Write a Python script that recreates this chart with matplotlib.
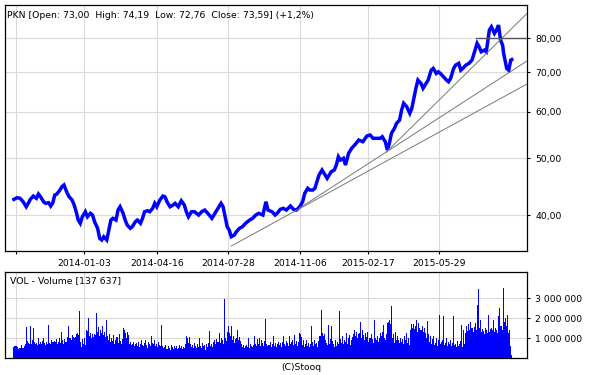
import numpy as np
import matplotlib.pyplot as plt
from matplotlib.ticker import FixedLocator, FuncFormatter, NullLocator

# close prices sampled along the session index (trading day number)
price_day = [0, 3, 6, 9, 12, 14, 16, 19, 22, 24, 26, 29, 31, 34, 36, 38, 40, 42, 45, 47,
             49, 52, 54, 57, 59, 61, 63, 65, 67, 70, 72, 75, 77, 79, 82, 84, 86, 88, 91, 93,
             95, 97, 100, 102, 104, 107, 109, 111, 114, 116, 119, 121, 124, 126, 128, 131, 133, 136, 138, 140,
             143, 146, 148, 150, 153, 156, 158, 161, 164, 167, 169, 171, 174, 177, 181, 184, 187, 190, 194, 197,
             200, 203, 205, 207, 209, 211, 213, 216, 218, 221, 224, 227, 231, 234, 237, 240, 244, 247, 249, 253,
             256, 258, 261, 264, 267, 271, 274, 277, 280, 283, 285, 288, 290, 293, 295, 297, 299, 302, 304, 307,
             309, 311, 314, 316, 318, 320, 323, 325, 328, 331, 334, 338, 342, 346, 349, 352, 356, 359, 361, 364,
             366, 368, 370, 373, 375, 378, 380, 382, 385, 388, 390, 392, 394, 396, 399, 401, 404, 406, 409, 411,
             414, 416, 418, 421, 424, 426, 428, 431, 433, 436, 438, 440, 443, 446, 449, 451, 454, 456, 458, 461,
             463, 466, 468, 471, 473, 475, 477, 479, 480, 482, 483, 485, 487, 488]
price = [42.54, 42.81, 42.71, 42.14, 41.32, 41.88, 42.54, 43.09, 42.71, 43.43, 42.98, 42.14, 41.88, 41.98, 41.44, 41.93, 43.26, 43.43, 44.12, 44.70,
         45.00, 43.66, 42.98, 42.42, 41.60, 40.52, 39.22, 38.72, 39.73, 40.52, 39.73, 40.27, 40.00, 38.96, 37.97, 36.51, 36.27, 36.74, 36.27, 37.72,
         39.22, 39.49, 39.22, 40.79, 41.32, 40.27, 39.22, 38.46, 37.97, 38.21, 38.96, 39.22, 38.72, 39.49, 40.52, 40.68, 40.52, 41.07, 41.88, 41.32,
         42.42, 43.09, 42.98, 42.14, 41.32, 41.60, 41.88, 41.32, 42.30, 41.60, 40.50, 39.73, 40.52, 40.52, 40.00, 40.52, 40.79, 40.27, 39.49, 40.27,
         41.07, 41.88, 41.32, 39.73, 38.21, 37.72, 36.74, 36.98, 37.46, 37.97, 38.21, 38.72, 39.22, 39.49, 40.00, 40.27, 40.00, 42.14, 40.79, 40.52,
         40.00, 40.27, 40.90, 41.07, 40.79, 41.44, 40.90, 40.79, 41.32, 42.14, 43.55, 44.42, 44.12, 44.12, 44.42, 45.58, 46.79, 47.72, 47.10, 46.19,
         46.79, 47.40, 47.72, 48.66, 50.27, 49.63, 49.96, 48.66, 50.95, 51.96, 52.63, 53.68, 53.32, 54.53, 54.74, 54.04, 54.04, 54.04, 54.38, 53.32,
         51.61, 52.99, 55.11, 56.20, 57.31, 58.05, 60.38, 62.00, 61.17, 59.60, 60.78, 63.21, 65.74, 67.90, 67.03, 65.74, 67.03, 67.90, 70.60, 71.08,
         69.69, 70.13, 69.69, 68.77, 67.90, 67.45, 68.34, 71.08, 72.01, 72.50, 70.60, 71.08, 72.01, 72.50, 73.43, 75.39, 78.41, 77.37, 75.86, 76.37,
         75.86, 82.60, 83.67, 81.54, 82.60, 84.24, 79.44, 77.89, 75.39, 72.50, 71.08, 70.60, 73.43, 73.59]

# daily volume, thousands of shares
volume_k = [
    560, 600, 620, 530, 450, 480, 520, 640, 490, 510, 580, 720, 1530, 830, 760, 690, 1580, 700, 880, 1500,
    820, 700, 760, 650, 980, 720, 780, 690, 850, 1000, 740, 660, 810, 700, 1670, 760, 700, 900, 780, 820,
    860, 780, 940, 700, 820, 1000, 760, 1300, 880, 720, 950, 800, 1050, 1600, 980, 1020, 900, 1150, 1060, 980,
    1050, 1200, 1250, 1150, 2330, 820, 560, 950, 700, 1000, 640, 1400, 1350, 2000, 1100, 1250, 1000, 1180, 1050, 1220,
    1150, 2250, 1300, 1550, 1100, 1400, 1250, 1600, 1150, 1300, 1050, 1900, 1100, 900, 1200, 780, 1000, 850, 1150, 720,
    900, 1050, 760, 1200, 830, 680, 950, 1500, 1400, 1250, 1000, 1300, 1150, 700, 780, 640, 720, 820, 600, 680,
    760, 620, 820, 540, 700, 880, 650, 580, 750, 900, 640, 520, 820, 700, 600, 1080, 760, 680, 900, 620,
    700, 560, 820, 640, 580, 1670, 620, 480, 550, 660, 450, 600, 520, 400, 640, 560, 470, 610, 500, 580,
    450, 520, 640, 480, 600, 430, 560, 500, 680, 1080, 1000, 760, 1050, 720, 560, 640, 480, 750, 600, 520,
    700, 560, 1000, 620, 480, 740, 580, 650, 420, 700, 560, 760, 1330, 600, 720, 540, 820, 900, 700, 950,
    820, 1250, 760, 1000, 880, 700, 2950, 1000, 840, 1300, 1580, 1250, 1100, 1600, 900, 1080, 760, 950, 1000, 1400,
    900, 1050, 850, 700, 560, 650, 520, 600, 640, 560, 1000, 520, 680, 600, 540, 660, 1080, 720, 600, 940,
    700, 1000, 620, 880, 760, 600, 840, 1950, 720, 580, 660, 800, 540, 700, 1080, 620, 760, 560, 680, 820,
    640, 760, 560, 820, 1100, 700, 620, 860, 740, 580, 1100, 680, 800, 900, 640, 1170, 720, 860, 600, 780,
    1250, 1200, 1050, 640, 880, 560, 720, 900, 620, 760, 540, 700, 1600, 820, 600, 900, 680, 760, 540, 840,
    1100, 2420, 1250, 1100, 1200, 880, 760, 640, 1670, 720, 950, 1600, 840, 680, 560, 900, 620, 780, 700, 2330,
    950, 760, 1100, 680, 900, 820, 1250, 700, 1000, 1170, 640, 880, 1050, 1200, 1400, 1100, 1300, 1000, 1180, 1250,
    1800, 1000, 1400, 1150, 900, 1250, 1050, 1300, 800, 1000, 1200, 950, 760, 1920, 1000, 880, 1100, 820, 1000, 1250,
    1100, 1300, 1670, 1000, 900, 1200, 1750, 1800, 1920, 1700, 2580, 1000, 1200, 760, 1300, 900, 1100, 880, 750, 1000,
    820, 950, 700, 1080, 880, 1250, 760, 1000, 640, 1400, 1700, 1500, 1680, 1450, 1600, 1920, 1300, 1750, 1500, 1400,
    1600, 1300, 1500, 1250, 1000, 1830, 1200, 800, 1100, 700, 950, 1080, 640, 760, 1000, 600, 880, 2170, 700, 820,
    900, 2100, 640, 760, 1000, 620, 820, 700, 900, 580, 760, 2080, 640, 720, 560, 840, 600, 700, 850, 1670,
    560, 1420, 700, 1250, 1600, 1330, 1700, 1400, 1800, 1500, 1300, 1550, 1750, 1400, 2670, 3450, 1500, 1920, 1300, 1450,
    1350, 1200, 1500, 1400, 1250, 2170, 1300, 1450, 1500, 1380, 1920, 1300, 1500, 1400, 1250, 2080, 2500, 1600, 1580, 1400,
    3500, 1800, 2000, 1600, 2170, 1250, 1400, 580, 137.637]

# trend lines (start day, start price) -> (end day, end price)
trend_start_day = [213, 280, 365]
trend_start_price = [35.42, 41.11, 51.21]
trend_end_day = [503, 503, 503]
trend_end_price = [66.87, 73.2, 88.2]
resist_day = 453
resist_price = 80.0

grid_days = [2, 69, 140.5, 210, 280.5, 347.5, 417]
grid_labels = ['', '2014-01-03', '2014-04-16', '2014-07-28', '2014-11-06', '2015-02-17', '2015-05-29']
price_ticks = [40, 50, 60, 70, 80]
vol_ticks = [1000000, 2000000, 3000000]

title = 'PKN [Open: 73,00  High: 74,19  Low: 72,76  Close: 73,59] (+1,2%)'
vol_title = 'VOL - Volume [137 637]'

blue = '#0000ff'
gridc = '#d9d9d9'
fs = 6.7

fig = plt.figure(figsize=(6, 3.75), dpi=100)
ax = fig.add_axes([5.3 / 600, 1 - 250.7 / 375, 522 / 600, 246 / 375])
axv = fig.add_axes([5.3 / 600, 1 - 358 / 375, 522 / 600, 86 / 375])

# price panel
ax.set_yscale('log')
ax.plot(price_day, price, color=blue, lw=2.5, solid_joinstyle='miter', zorder=3)
for d0, p0, d1, p1 in zip(trend_start_day, trend_start_price, trend_end_day, trend_end_price):
    ax.plot([d0, d1], [p0, p1], color='#777777', lw=0.7, zorder=4)
ax.plot([resist_day, 503.2], [resist_price, resist_price], color='#555555', lw=1.0, zorder=4)

ax.set_xlim(-8.5, 503.2)
ax.set_ylim(34.78, 91.25)
ax.yaxis.tick_right()
ax.yaxis.set_major_locator(FixedLocator(price_ticks))
ax.yaxis.set_minor_locator(NullLocator())
ax.yaxis.set_major_formatter(FuncFormatter(lambda v, p: f'{v:.2f}'.replace('.', ',')))
ax.set_xticks(grid_days)
ax.set_xticklabels(grid_labels)
ax.grid(True, color=gridc, lw=0.8, zorder=0)
ax.set_axisbelow(True)
ax.tick_params(axis='both', labelsize=fs, length=2.5, width=0.8, pad=3.2, colors='black')

# volume panel
days = np.arange(len(volume_k))
axv.bar(days, np.array(volume_k) * 1000, width=1.0, color=blue, linewidth=0, antialiased=False, zorder=3)
axv.set_xlim(-8.5, 503.2)
axv.set_ylim(0, 4300000)
axv.yaxis.tick_right()
axv.yaxis.set_major_locator(FixedLocator(vol_ticks))
axv.yaxis.set_major_formatter(FuncFormatter(lambda v, p: f'{int(v):,}'.replace(',', ' ')))
axv.set_xticks(grid_days)
axv.set_xticklabels([])
axv.grid(True, color=gridc, lw=0.8, zorder=0)
axv.set_axisbelow(True)
axv.tick_params(axis='y', labelsize=fs, length=2.5, width=0.8, pad=3.2)
axv.tick_params(axis='x', length=0)

for a in (ax, axv):
    for s in a.spines.values():
        s.set_linewidth(0.9)
        s.set_color('black')

fig.text(7 / 600, 1 - 16 / 375, title, fontsize=fs, va='center', ha='left')
fig.text(10 / 600, 1 - 281 / 375, vol_title, fontsize=fs, va='center', ha='left')
fig.text(301.5 / 600, 1 - 367.5 / 375, '(C)Stooq', fontsize=fs, va='center', ha='center')

fig.savefig('out.png', dpi=100)
